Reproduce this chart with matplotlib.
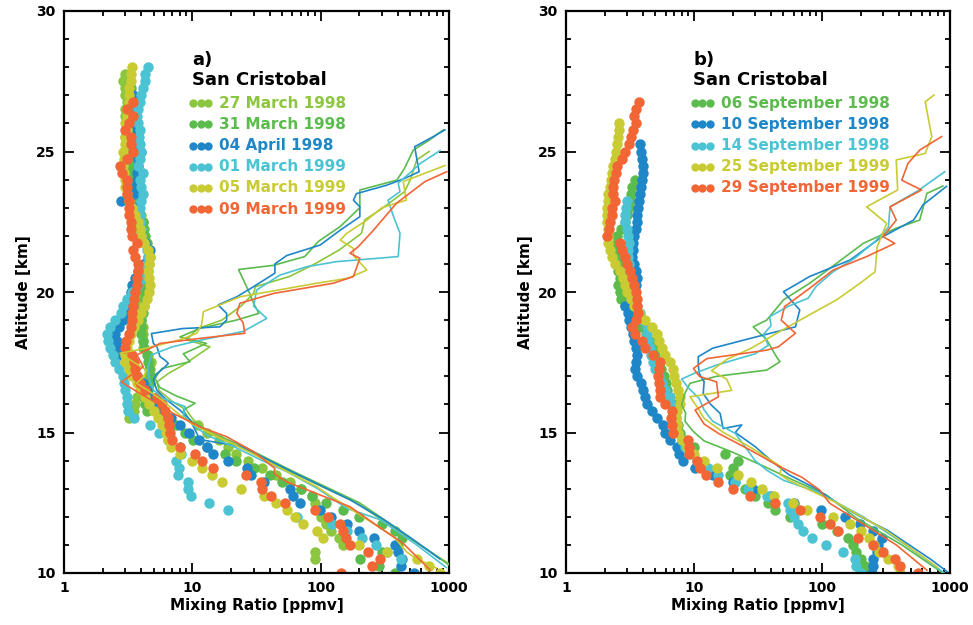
import numpy as np
import matplotlib
matplotlib.use("Agg")
from matplotlib import pyplot as plt
from matplotlib.ticker import FixedLocator, MultipleLocator, NullFormatter, FixedFormatter

plt.rcParams['font.family'] = 'DejaVu Sans'
plt.rcParams['font.weight'] = 'bold'

# ---------------- colours ----------------
LGREEN = '#8cc63f'
GREEN = '#5bbb4d'
BLUE = '#1f87c8'
CYAN = '#4cc3d3'
YELLOW = '#c9cb33'
ORANGE = '#f26535'

STEP = 0.25  # km between sonde dots

# ---------------- panel a: San Cristobal, March 1998/1999 ----------------
a_labels = ['27 March 1998', '31 March 1998', '04 April 1998',
            '01 March 1999', '05 March 1999', '09 March 1999']
a_colors = [LGREEN, GREEN, BLUE, CYAN, YELLOW, ORANGE]
a_dot_start = [10.5, 10.0, 10.0, 10.5, 10.0, 10.0]

a_dots_27mar98 = [90, 90, 150, 140, 120, 110, 100, 95, 90, 85, 70, 58, 45, 35, 27, 22, 19, 16, 13, 11,
                  3.2, 3.5, 3.6, 3.7, 3.9, 4.2, 4.5, 4.67, 4.8, 4.5, 4.15, 4.1, 4.15, 4.1, 4.0,
                  3.9, 3.9, 4.0, 4.1, 4.2, 4.3, 4.4, 4.5, 4.6, 4.5, 4.3, 4.2, 4.1, 4.15, 4.0, 3.8,
                  3.6, 3.5, 3.4, 3.3, 3.3, 3.2, 3.2, 3.1, 3.1, 3.0, 3.1, 3.1, 3.0, 3.0, 3.1, 3.0,
                  3.0, 2.9, 3.0]
a_dots_31mar98 = [380, 287, 203, 300, 400, 430, 380, 300, 200, 150, 110, 85, 70, 50, 40, 30, 22, 18, 13,
                  10.1, 8.8, 7.5, 6.0, 4.4, 4.3, 4.2, 4.5, 4.7, 4.8, 4.6, 4.5, 4.4, 4.2, 4.1, 4.0, 4.0,
                  4.0, 4.1, 4.2, 4.3, 4.3, 4.2, 4.4, 4.5, 4.6, 4.7, 4.5, 4.4, 4.3, 4.2, 4.1, 3.9,
                  3.8, 3.7, 3.6, 3.6, 3.5, 3.5, 3.4, 3.4, 3.5, 3.4, 3.3, 3.4, 3.3, 3.3, 3.2, 3.3,
                  3.2, 3.3]
a_dots_04apr98 = [530, 420, 430, 400, 380, 260, 200, 160, 120, 99, 69, 61, 58, 36, 28.5, 26.5, 19, 14.6,
                  12.9, 11.3, 9.5, 8.0, 6.8, 5.8, 5.2, 4.7, 4.4, 4.1, 3.7, 3.4, 3.1, 2.8, 2.6, 2.57,
                  2.5, 2.7, 2.9, 3.0, 3.1, 3.2, 3.3, 3.4, 3.6, 3.8, 4.1, 4.5, 4.7, 4.3, 4.0, 3.9,
                  3.8, 3.7, 3.6, 2.8, 3.5, 3.6, 3.7, 3.7, 3.8, 3.8, 4.0, 3.8, 3.7, 3.7, 3.6, 3.6,
                  3.5, 3.5, 3.47]
a_dots_01mar99 = [420, 330, 270, 210, 160, 122, 65, 19, 13.5, 9.7, 9.3, 9.2, 7.8, 7.9, 7.5, 8.2, 8.0,
                  6.5, 5.5, 4.7, 3.5, 3.17, 3.08, 3.1, 3.0, 2.95, 2.9, 2.7, 2.5, 2.42, 2.28, 2.2,
                  2.15, 2.28, 2.5, 2.78, 2.9, 3.1, 3.4, 3.8, 4.2, 4.3, 4.4, 4.5, 4.4, 4.2, 4.0, 4.0,
                  3.9, 3.9, 3.9, 4.0, 4.1, 4.0, 3.9, 4.1, 3.8, 3.9, 4.0, 3.9, 3.86, 3.9, 3.8, 3.7,
                  3.8, 3.9, 4.0, 4.1, 4.3, 4.3, 4.5]
a_dots_05mar99 = [850, 700, 560, 327, 200, 105, 93, 73, 63, 55, 45, 36, 24, 17, 14.2, 12, 10, 8, 6.8,
                  6.5, 6.2, 5.8, 5.4, 5.0, 4.6, 4.3, 4.0, 3.7, 3.4, 3.2, 3.0, 3.0, 3.1, 3.2, 3.3, 3.5,
                  3.8, 4.0, 4.2, 4.4, 4.6, 4.7, 4.6, 4.5, 4.6, 4.67, 4.5, 4.2, 4.0, 3.9, 3.8, 3.6,
                  3.4, 3.2, 3.1, 3.0, 3.0, 2.95, 2.9, 2.95, 2.9, 3.0, 3.0, 3.1, 3.0, 3.1, 3.1, 3.2,
                  3.2, 3.2, 3.3, 3.3, 3.37]
a_dots_09mar99 = [145, 250, 290, 235, 169, 158, 148, 142, 114, 90, 53, 41, 35, 34, 26, 14.6, 11.8, 10.5,
                  8.0, 6.9, 6.7, 6.6, 6.5, 6.1, 5.8, 5.3, 4.3, 3.9, 3.7, 3.6, 3.5, 3.4, 3.0, 3.04,
                  3.2, 3.3, 3.37, 3.4, 3.47, 3.5, 3.6, 3.7, 3.7, 3.8, 3.8, 3.6, 3.47, 3.68, 3.4, 3.3,
                  3.3, 3.2, 3.2, 3.2, 3.1, 3.1, 3.1, 2.85, 2.73, 3.1, 3.47, 3.3, 3.3, 2.98, 3.2,
                  3.47, 3.08, 3.47]

# lines: (altitude km, mixing ratio)
a_line_27mar98 = [(10.34, 990), (11.5, 400), (12.5, 190), (13.6, 58), (14.5, 23), (15.0, 13), (15.5, 10),
                  (15.8, 9), (16.1, 7), (16.5, 5.5), (16.8, 5.3), (17.1, 6.5), (17.4, 8.5), (18.05, 13.7),
                  (18.3, 9), (18.7, 11), (19.0, 17), (19.5, 24), (19.95, 30), (20.19, 31), (20.55, 57),
                  (21.0, 90), (21.5, 140), (22.09, 208), (22.56, 220), (22.92, 290), (23.57, 450),
                  (24.0, 500), (24.7, 560), (25.0, 700)]
a_line_31mar98 = [(10.3, 990), (11.5, 420), (12.5, 200), (13.6, 62), (14.5, 25), (15.0, 14), (15.45, 9.5),
                  (15.8, 8.5), (16.04, 10.5), (16.3, 7.5), (16.6, 5.6), (16.93, 5.1), (17.28, 5.8),
                  (17.52, 9.6), (17.8, 8.5), (18.17, 12.9), (18.4, 8), (18.7, 11.4), (19.0, 22),
                  (19.24, 33), (19.6, 30), (19.95, 28), (20.8, 22.9), (20.95, 43), (21.26, 75),
                  (21.8, 96), (22.33, 142), (23.0, 202), (23.63, 202), (23.98, 392), (24.4, 450),
                  (25.05, 527), (25.4, 700), (25.77, 905)]
a_line_04apr98 = [(10.5, 850), (11.2, 520), (11.9, 310), (12.6, 170), (13.6, 60), (14.5, 24),
                  (14.75, 11.4), (15.1, 10.5), (15.45, 9.6), (15.8, 8.0), (16.16, 6.3), (16.5, 5.3),
                  (16.87, 4.97), (17.1, 5.3), (17.28, 5.95), (17.46, 6.5), (17.58, 6.1), (17.7, 5.6),
                  (18.05, 5.3), (18.17, 4.97), (18.52, 4.8), (18.7, 8.4), (18.76, 16.4), (19.0, 18.5),
                  (19.24, 18.5), (19.54, 15.9), (19.83, 22.2), (20.19, 30), (20.67, 44), (21.0, 44),
                  (21.3, 54.5), (21.67, 99), (22.2, 142), (22.68, 202), (23.03, 202), (23.27, 180),
                  (23.5, 190), (23.8, 327), (24.04, 450), (24.28, 585), (25.17, 540), (25.53, 755),
                  (25.77, 930)]
a_line_01mar99 = [(10.2, 950), (11.0, 560), (11.9, 290), (12.3, 160), (13.0, 95), (13.6, 55), (14.0, 35),
                  (14.5, 21), (14.9, 13), (15.3, 10), (15.6, 8.5), (15.92, 8.8), (16.2, 6), (16.5, 5),
                  (16.9, 4.6), (17.3, 4.5), (17.76, 4.8), (18.05, 7), (18.3, 12), (18.6, 25),
                  (19.06, 38), (19.5, 30), (20.07, 31.7), (20.6, 48), (20.9, 78), (21.08, 133),
                  (21.26, 402), (22.09, 415), (22.68, 370), (23.27, 335), (23.57, 415), (23.87, 402),
                  (24.58, 600), (25.03, 850)]
a_line_05mar99 = [(10.17, 800), (10.58, 527), (10.76, 465), (11.3, 370), (12.6, 133), (13.07, 93),
                  (13.6, 55), (14.3, 28), (14.9, 15), (15.3, 10), (15.62, 8.0), (16.16, 5.77), (16.5, 4.5),
                  (16.75, 3.68), (17.0, 4.2), (17.22, 4.4), (17.5, 3.5), (17.82, 2.73), (18.0, 4.4),
                  (18.3, 8), (18.53, 10.8), (18.83, 11.8), (19.3, 12.2), (19.83, 23.5), (20.31, 93),
                  (20.49, 163), (20.78, 229), (21.3, 180), (21.55, 180), (21.85, 142), (22.09, 160),
                  (22.56, 229), (23.0, 300), (23.27, 465), (23.93, 440), (24.5, 930)]
a_line_09mar99 = [(10.1, 715), (11.05, 440), (11.53, 308), (12.36, 169), (13.25, 54), (13.55, 43),
                  (13.72, 44), (14.32, 30), (14.85, 18.5), (15.2, 11.5), (15.68, 7.1), (16.04, 5.3),
                  (16.39, 3.9), (16.8, 2.8), (17.1, 3.47), (17.34, 4.15), (17.76, 3.7), (18.17, 5.6),
                  (18.35, 11.5), (18.53, 25.6), (18.9, 24.9), (19.24, 22.2), (19.6, 23.5), (19.95, 43),
                  (20.31, 125), (20.55, 180), (21.2, 202), (21.38, 169), (21.61, 196), (22.2, 258),
                  (23.16, 390), (23.93, 650), (24.28, 960)]

a_dots = [a_dots_27mar98, a_dots_31mar98, a_dots_04apr98, a_dots_01mar99, a_dots_05mar99, a_dots_09mar99]
a_lines = [a_line_27mar98, a_line_31mar98, a_line_04apr98, a_line_01mar99, a_line_05mar99, a_line_09mar99]

# ---------------- panel b: San Cristobal, September 1998/1999 ----------------
b_labels = ['06 September 1998', '10 September 1998', '14 September 1998',
            '25 September 1999', '29 September 1999']
b_colors = [GREEN, BLUE, CYAN, YELLOW, ORANGE]
b_dot_start = [10.0, 10.0, 10.0, 10.0, 10.0]

b_dots_06sep98 = [223, 215, 200, 186, 176, 160, 130, 100, 56, 43, 38, 30, 25, 21, 19.1, 20, 22, 17.5, 10,
                  8.5, 7.8, 7.5, 7.2, 7.0, 6.8, 6.5, 6.2, 6.0, 5.8, 5.5, 5.2, 5.0, 4.8, 4.5, 4.2, 3.8,
                  3.4, 3.1, 2.9, 2.7, 2.64, 2.56, 2.64, 2.56, 2.56, 2.56, 2.5, 2.49, 2.5, 2.7, 2.89,
                  3.0, 3.1, 3.15, 3.2, 3.26, 3.46]
b_dots_10sep98 = [245, 250, 251, 270, 275, 292, 251, 198, 150, 99, 60, 40, 29, 20, 14, 10.2, 8.25, 7.7,
                  7.3, 6.5, 5.94, 5.76, 5.1, 4.67, 4.27, 4.14, 4.0, 3.85, 3.6, 3.46, 3.5, 3.57, 3.5,
                  3.4, 3.36, 3.2, 3.1, 3.07, 2.89, 3.2, 3.4, 3.5, 3.57, 3.5, 3.4, 3.3, 3.36, 3.36,
                  3.4, 3.5, 3.57, 3.6, 3.67, 3.7, 3.79, 3.85, 3.9, 4.0, 4.0, 3.9, 3.85, 3.79]
b_dots_14sep98 = [200, 186, 180, 146, 108, 83, 71, 65, 60, 56, 54.5, 37, 26.5, 20.9, 15.5, 12.9, 10.5,
                  9.5, 8.5, 8.0, 7.5, 7.2, 7.0, 6.8, 6.6, 6.5, 5.94, 5.6, 5.3, 5.0, 4.8, 4.6, 4.5,
                  4.4, 4.3, 4.27, 4.0, 3.8, 3.6, 3.5, 3.4, 3.3, 3.2, 3.1, 3.1, 3.07, 3.07, 3.1, 3.07,
                  3.0, 2.9, 2.89, 2.95, 3.0]
b_dots_25sep99 = [410, 393, 330, 280, 255, 235, 200, 166, 122, 76, 59.6, 42.5, 34, 28, 22, 15.2, 12, 10,
                  8.8, 8.0, 7.5, 7.3, 7.2, 7.4, 7.8, 7.8, 7.5, 7.2, 7.0, 6.9, 6.5, 5.94, 5.6, 5.3,
                  5.1, 4.7, 4.14, 3.7, 3.4, 3.2, 2.98, 2.9, 2.8, 2.64, 2.41, 2.3, 2.2, 2.14, 2.12,
                  2.14, 2.1, 2.08, 2.08, 2.12, 2.14, 2.2, 2.25, 2.3, 2.35, 2.4, 2.45, 2.5, 2.55, 2.61,
                  2.61]
b_dots_29sep99 = [560, 406, 372, 300, 251, 192, 134, 115, 96, 67, 42.8, 27.4, 20.2, 15.5, 12.4, 11.1,
                  10.5, 9.2, 9.2, 9.0, 6.9, 6.7, 6.6, 6.7, 5.9, 5.4, 5.4, 5.3, 5.2, 5.3, 5.42, 4.8,
                  4.14, 3.9, 3.46, 3.26, 3.5, 3.67, 3.57, 3.57, 3.5, 3.4, 3.26, 3.16, 2.98, 2.9, 2.72,
                  2.64, 2.1, 2.15, 2.2, 2.27, 2.3, 2.41, 2.34, 2.34, 2.38, 2.45, 2.49, 2.72, 2.89, 3.1,
                  3.2, 3.36, 3.5, 3.4, 3.5, 3.74]

b_line_06sep98 = [(10.0, 880), (11.0, 420), (11.95, 186), (12.78, 108), (13.3, 60), (13.8, 35), (14.3, 20),
                  (14.7, 12), (15.03, 9.9), (15.4, 8.5), (15.7, 8.6), (15.98, 8), (16.4, 8.5), (16.75, 9.3),
                  (17.0, 15), (17.22, 37), (17.52, 47), (17.7, 44), (18.3, 37), (18.76, 29), (19.0, 37),
                  (19.72, 50), (20.31, 80), (21.02, 130), (21.73, 210), (22.27, 380), (22.56, 580),
                  (23.51, 660), (23.77, 880)]
b_line_10sep98 = [(10.05, 950), (10.5, 700), (11.0, 480), (11.5, 330), (12.0, 200), (12.5, 130), (13.0, 90),
                  (13.5, 55), (14.0, 40), (14.5, 30), (15.0, 21), (15.27, 23.6), (15.14, 16.9), (15.68, 16),
                  (16.0, 13.5), (16.39, 11.8), (16.8, 12), (17.1, 11), (17.4, 10.8), (17.7, 10.8),
                  (18.0, 14), (18.3, 25), (18.76, 62), (19.36, 67), (20.01, 50), (20.31, 65), (20.55, 80),
                  (21.14, 166), (21.91, 283), (22.56, 520), (23.1, 615), (23.76, 940)]
b_line_14sep98 = [(10.0, 900), (11.0, 450), (12.0, 210), (12.9, 90), (13.3, 50), (13.66, 37), (14.0, 30),
                  (14.5, 25), (14.97, 21), (15.4, 14), (15.8, 12), (16.2, 11), (16.6, 9), (16.9, 8),
                  (17.1, 10), (17.4, 15), (17.8, 30), (18.1, 38), (18.5, 35), (18.8, 40), (19.12, 39),
                  (19.5, 55), (19.78, 78), (20.2, 90), (20.72, 122), (21.2, 180), (21.8, 260),
                  (22.3, 330), (23.03, 340), (23.6, 560), (24.28, 910)]
b_line_25sep99 = [(10.2, 800), (11.5, 320), (12.5, 130), (13.3, 55), (13.5, 47), (13.78, 48), (14.5, 27),
                  (15.0, 17), (15.5, 12), (15.85, 10.8), (16.27, 9.3), (16.5, 19.7), (16.9, 18),
                  (17.2, 13.7), (17.6, 18), (18.0, 28), (18.6, 47), (19.06, 71), (19.72, 130),
                  (20.31, 198), (20.72, 260), (21.61, 270), (22.44, 320), (23.03, 223), (23.63, 390),
                  (24.7, 380), (24.93, 640), (25.53, 720), (26.77, 640), (27.01, 750)]
b_line_29sep99 = [(10.1, 660), (11.0, 380), (11.8, 200), (12.48, 115), (12.95, 96), (13.4, 70), (13.78, 47),
                  (14.38, 27.4), (14.97, 15.5), (15.3, 12), (15.8, 10.2), (16.27, 15.5), (16.8, 15),
                  (17.0, 11), (17.28, 9.9), (17.63, 12.6), (17.93, 37), (18.05, 45.6), (18.53, 62),
                  (19.0, 48), (19.48, 51), (20.13, 80), (20.78, 122), (21.26, 223), (21.73, 370),
                  (21.97, 300), (22.56, 380), (23.03, 340), (23.63, 600), (23.98, 420), (24.58, 470),
                  (25.05, 580), (25.53, 860)]

b_dots = [b_dots_06sep98, b_dots_10sep98, b_dots_14sep98, b_dots_25sep99, b_dots_29sep99]
b_lines = [b_line_06sep98, b_line_10sep98, b_line_14sep98, b_line_25sep99, b_line_29sep99]

xticks = [1, 10, 100, 1000]
xticklabels = ['1', '10', '100', '1000']


def draw_panel(ax, tag, labels, colors, starts, dots, lines):
    for c, s, vals in zip(colors, starts, dots):
        alt = s + STEP * np.arange(len(vals))
        ax.plot(vals, alt, 'o', color=c, ms=7.5, mew=0, ls='none', zorder=2)
    for c, pts in zip(colors, lines):
        alt, val = zip(*pts)
        ax.plot(val, alt, '-', color=c, lw=1.2, zorder=3)

    ax.set_xscale('log')
    ax.set_xlim(1, 1000)
    ax.set_ylim(10, 30)
    ax.xaxis.set_major_locator(FixedLocator(xticks))
    ax.xaxis.set_major_formatter(FixedFormatter(xticklabels))
    ax.xaxis.set_minor_locator(FixedLocator([m * d for d in (1, 10, 100) for m in range(2, 10)]))
    ax.xaxis.set_minor_formatter(NullFormatter())
    ax.yaxis.set_major_locator(MultipleLocator(5))
    ax.yaxis.set_minor_locator(MultipleLocator(1))
    ax.tick_params(which='both', direction='in', top=True, right=True, width=1.3, labelsize=10)
    ax.tick_params(which='major', length=7, pad=6)
    ax.tick_params(which='minor', length=3.5)
    for sp in ax.spines.values():
        sp.set_linewidth(1.6)
    ax.set_xlabel('Mixing Ratio [ppmv]', fontsize=11, fontweight='bold', labelpad=2)
    ax.set_ylabel('Altitude [km]', fontsize=11, fontweight='bold', labelpad=4)

    ax.text(0.332, 0.913, tag, transform=ax.transAxes, fontsize=13, fontweight='bold', va='center')
    ax.text(0.332, 0.877, 'San Cristobal', transform=ax.transAxes, fontsize=13, fontweight='bold',
            va='center')
    y0, dy = 0.836, 0.0377
    for i, (lab, c) in enumerate(zip(labels, colors)):
        y = y0 - i * dy
        ax.plot([0.335, 0.355, 0.375], [y] * 3, 'o', color=c, ms=6, mew=0,
                transform=ax.transAxes, clip_on=False)
        ax.text(0.403, y, lab, color=c, transform=ax.transAxes, fontsize=11,
                fontweight='bold', va='center')


fig = plt.figure(figsize=(9.73, 6.25), dpi=100)
ax_a = fig.add_axes([64 / 973, 52 / 625, 385 / 973, 562 / 625])
ax_b = fig.add_axes([566 / 973, 52 / 625, 384 / 973, 562 / 625])

draw_panel(ax_a, 'a)', a_labels, a_colors, a_dot_start, a_dots, a_lines)
draw_panel(ax_b, 'b)', b_labels, b_colors, b_dot_start, b_dots, b_lines)

fig.savefig('out.png', dpi=100)
